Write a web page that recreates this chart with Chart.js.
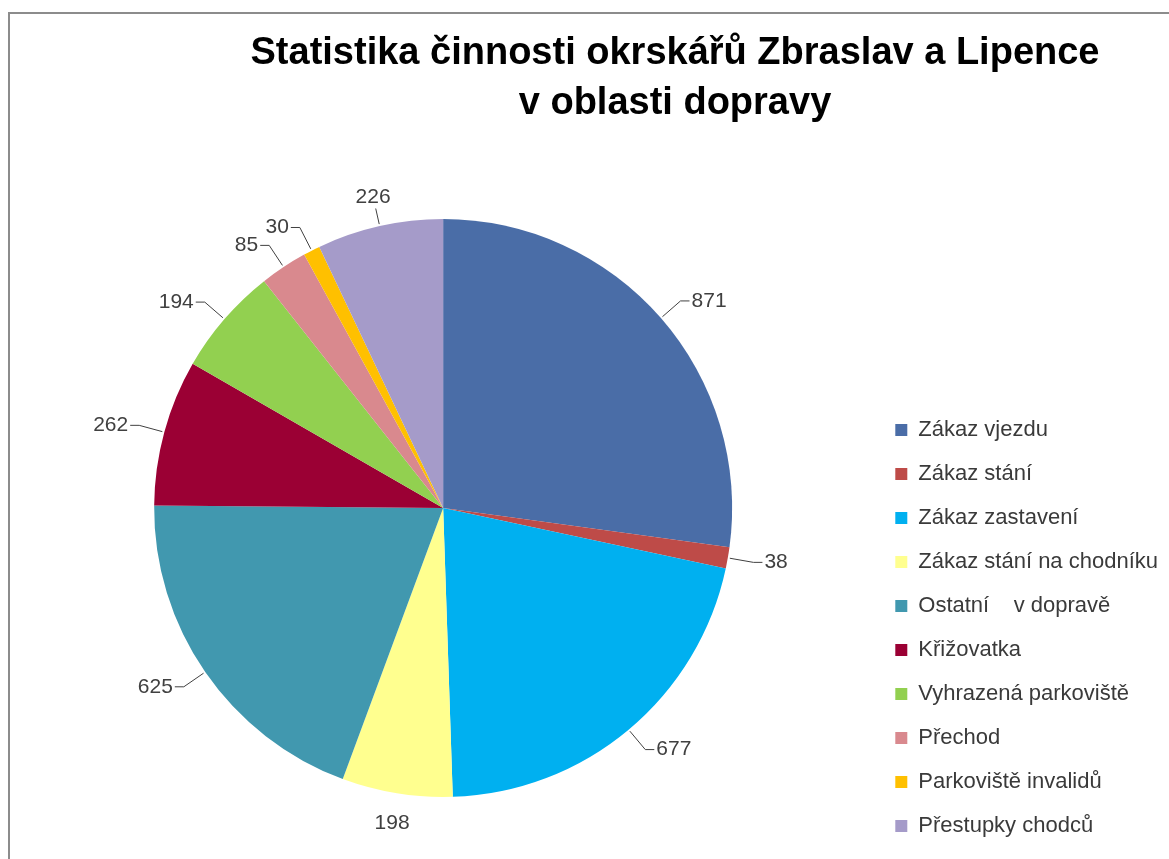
<!DOCTYPE html>
<html>
<head>
<meta charset="utf-8">
<title>Statistika činnosti okrskářů</title>
<script src="https://cdn.jsdelivr.net/npm/chart.js@4.4.1/dist/chart.umd.min.js"></script>
<style>
  html, body { margin: 0; padding: 0; background: #fff; }
  #wrap { width: 1169px; height: 859px; position: relative; }
</style>
</head>
<body>
<div id="wrap"><canvas id="pieChart"></canvas></div>
<script>
// data
var categories = [
  'Zákaz vjezdu',
  'Zákaz stání',
  'Zákaz zastavení',
  'Zákaz stání na chodníku',
  'Ostatní    v dopravě',
  'Křižovatka',
  'Vyhrazená parkoviště',
  'Přechod',
  'Parkoviště invalidů',
  'Přestupky chodců'
];
var counts = [871, 38, 677, 198, 625, 262, 194, 85, 30, 226];
var titleLines = ['Statistika činnosti okrskářů Zbraslav a Lipence', 'v oblasti dopravy'];

var sliceColors = ['#4A6DA7', '#BE4B48', '#00B0F0', '#FFFF8F', '#4198AF',
                   '#9B0034', '#92D050', '#D9898E', '#FFC000', '#A59BC9'];

var FONT = "'Liberation Sans', Arial, sans-serif";

// grey frame + title
var frameTitle = {
  id: 'frameTitle',
  beforeDraw: function(chart) {
    var ctx = chart.ctx;
    ctx.save();
    ctx.strokeStyle = '#8c8c8c';
    ctx.lineWidth = 2;
    ctx.beginPath();
    ctx.moveTo(9, chart.height);
    ctx.lineTo(9, 13);
    ctx.lineTo(chart.width, 13);
    ctx.stroke();
    ctx.fillStyle = '#000';
    ctx.font = 'bold 38px ' + FONT;
    ctx.textAlign = 'center';
    ctx.textBaseline = 'middle';
    ctx.fillText(titleLines[0], 675, 54);
    ctx.fillText(titleLines[1], 675, 104);
    ctx.restore();
  }
};

// value labels with leader lines, placed from each arc's own geometry
var valueLabels = {
  id: 'valueLabels',
  afterDatasetsDraw: function(chart) {
    var ctx = chart.ctx;
    var meta = chart.getDatasetMeta(0);
    ctx.save();
    ctx.font = '21px ' + FONT;
    ctx.fillStyle = '#404040';
    ctx.strokeStyle = '#404040';
    ctx.lineWidth = 1;
    ctx.textBaseline = 'middle';
    meta.data.forEach(function(arc, i) {
      var p = arc.getProps(['x', 'y', 'startAngle', 'endAngle', 'outerRadius'], true);
      var mid = (p.startAngle + p.endAngle) / 2;
      var c = Math.cos(mid), s = Math.sin(mid);
      var r = p.outerRadius;
      var txt = String(counts[i]);
      if (Math.abs(c) < 0.25) {
        // near top / bottom: text centred above or below
        var tx = p.x + c * (r + 30);
        var ty = p.y + s * (r + 30);
        if (s < 0) {
          ctx.beginPath();
          ctx.moveTo(p.x + c * (r + 2), p.y + s * (r + 2));
          ctx.lineTo(p.x + c * (r + 18), p.y + s * (r + 18));
          ctx.stroke();
        }
        ctx.textAlign = 'center';
        ctx.fillText(txt, tx, ty);
      } else {
        var ex = p.x + c * (r + 26);
        var ey = p.y + s * (r + 26);
        var dir = c > 0 ? 1 : -1;
        ctx.beginPath();
        ctx.moveTo(p.x + c * (r + 2), p.y + s * (r + 2));
        ctx.lineTo(ex, ey);
        ctx.lineTo(ex + dir * 9, ey);
        ctx.stroke();
        ctx.textAlign = dir > 0 ? 'left' : 'right';
        ctx.fillText(txt, ex + dir * 11, ey);
      }
    });
    ctx.restore();
  }
};

var ctx = document.getElementById('pieChart').getContext('2d');
var chart = new Chart(ctx, {
  type: 'pie',
  data: {
    labels: categories,
    datasets: [{
      data: counts,
      backgroundColor: sliceColors,
      borderWidth: 0,
      radius: 289,
      clip: false
    }]
  },
  options: {
    responsive: true,
    maintainAspectRatio: false,
    animation: false,
    events: [],
    layout: {
      padding: { left: 13, right: 1, top: 157, bottom: 0 }
    },
    plugins: {
      title: { display: false },
      tooltip: { enabled: false },
      legend: {
        position: 'right',
        align: 'end',
        labels: {
          boxWidth: 12,
          boxHeight: 12,
          padding: 22,
          color: '#3a3a3a',
          font: { family: FONT, size: 22 }
        }
      }
    }
  },
  plugins: [frameTitle, valueLabels]
});
</script>
</body>
</html>
